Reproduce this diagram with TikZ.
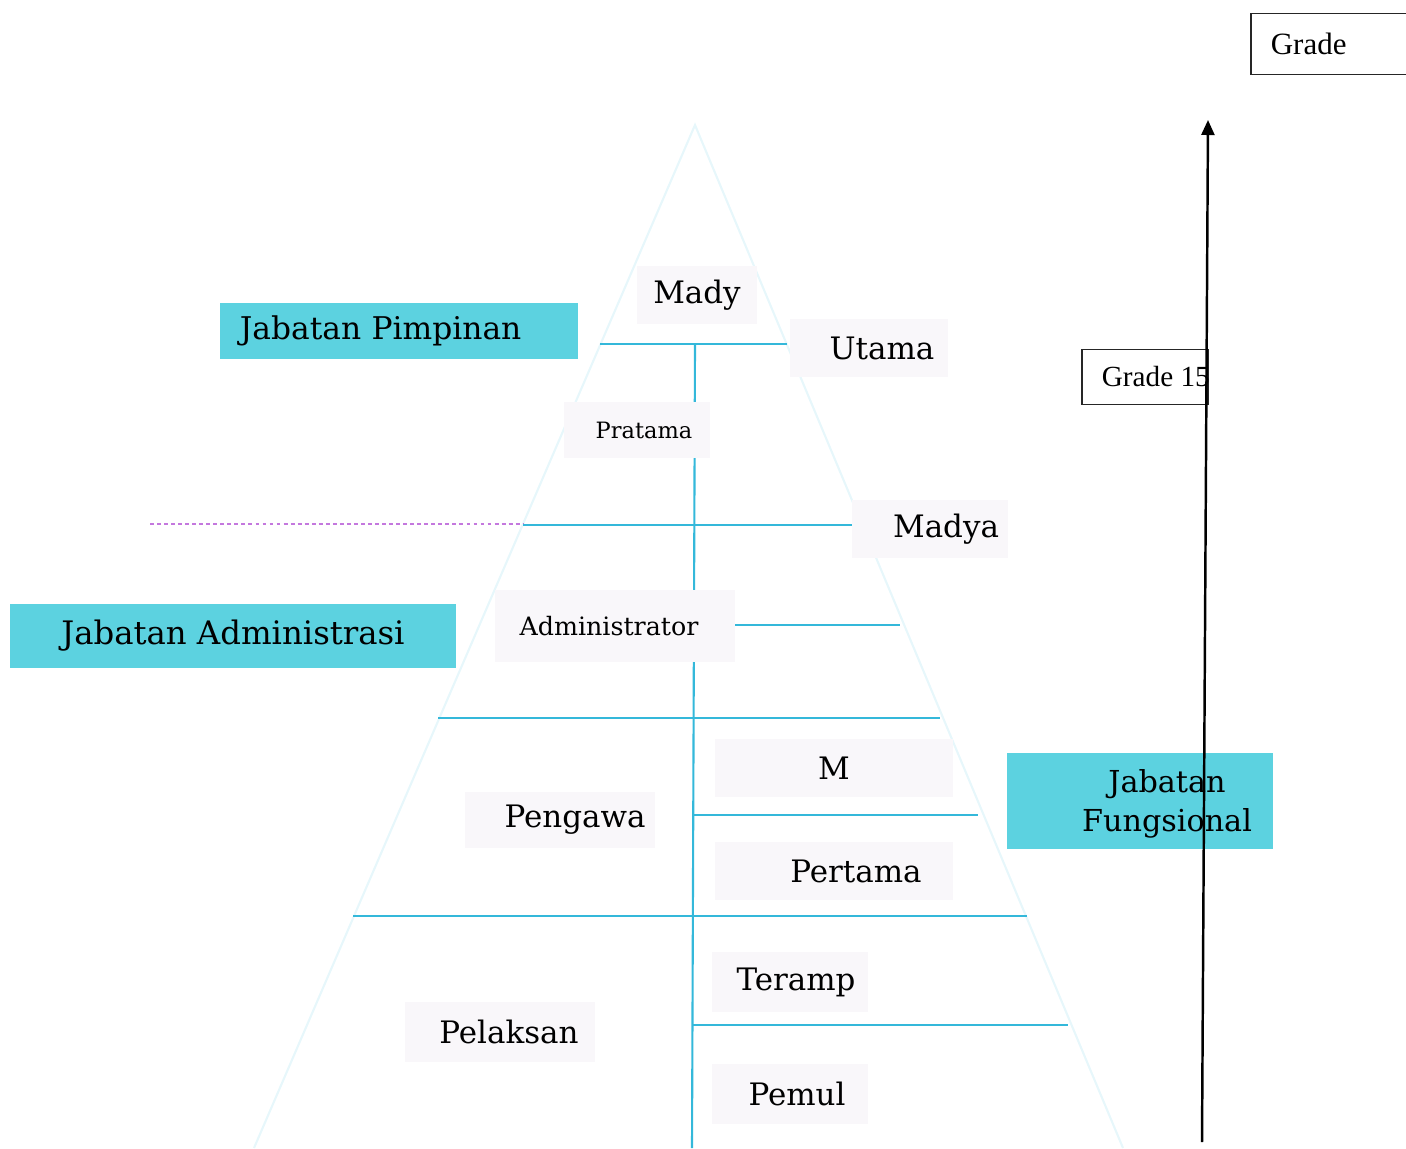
\documentclass[tikz,border=0pt]{standalone}
\usepackage{fontspec}
\setmainfont{DejaVu Serif}
\newfontfamily\timesfont{Liberation Serif}
\usetikzlibrary{arrows.meta, positioning}
\definecolor{boxcyan}{RGB}{92,210,224}
\definecolor{linecyan}{RGB}{52,184,218}
\definecolor{paleface}{RGB}{249,247,250}
\definecolor{dashpink}{RGB}{196,120,222}

\begin{document}
\begin{tikzpicture}[
  x=0.01cm, y=-0.01cm,
  >={Triangle[length=0.15cm, width=0.13cm]},
  jabatan/.style={fill=boxcyan, inner sep=0pt, align=center, font=\fontsize{8.9}{10.9}\selectfont},
  level/.style={fill=paleface, inner sep=0pt, font=\fontsize{8.8}{10}\selectfont},
  sublevel/.style={level, font=\fontsize{6.4}{8}\selectfont},
  gradebox/.style={draw=black!85, line width=0.5pt, inner ysep=0pt, inner xsep=0.2cm,
    anchor=west, font=\timesfont\fontsize{8.8}{10}\selectfont},
  divider/.style={linecyan, line width=0.6pt},
  axis/.style={->, line width=0.7pt, black},
]
\useasboundingbox (0,0) rectangle (1406,1148);

% pyramid outline
\draw[linecyan!12, line width=0.6pt] (254,1148) -- (695,125) -- (1123,1148);

% level dividers
\draw[dashpink, line width=0.6pt, dash pattern=on 1.1pt off 0.9pt] (150,524) -- (523,524);
\draw[divider] (600,344) -- (787,344);
\draw[divider] (523,525) -- (852,525);
\draw[divider] (735,625) -- (900,625);
\draw[divider] (438,718) -- (940,718);
\draw[divider] (693,815) -- (978,815);
\draw[divider] (353,916) -- (1027,916);
\draw[divider] (693,1025) -- (1068,1025);
\draw[divider] (695,344) -- (692,1148);

% level labels (hspace shifts the text inside its pale box)
\node[level, minimum width=1.2cm, minimum height=0.58cm] (mady) at (697,295) {Mady};
\node[level, minimum width=1.58cm, minimum height=0.57cm] (utama) at (869,348) {\hspace*{0.26cm}Utama};
\node[sublevel, minimum width=1.45cm, minimum height=0.55cm] (pratama) at (637,430) {\hspace*{0.14cm}Pratama};
\node[level, minimum width=1.56cm, minimum height=0.58cm] (madya) at (930,529) {\hspace*{0.32cm}Madya};
\node[sublevel, font=\fontsize{7.2}{8}\selectfont, minimum width=2.4cm, minimum height=0.72cm]
  (admin) at (615,626) {Administrator\hspace*{0.12cm}};
\node[level, minimum width=2.37cm, minimum height=0.58cm] (muda) at (834,768) {M};
\node[level, minimum width=1.9cm, minimum height=0.55cm] (pengawas) at (560,820) {\hspace*{0.3cm}Pengawa};
\node[level, minimum width=2.37cm, minimum height=0.57cm] (pertama) at (834,871) {\hspace*{0.44cm}Pertama};
\node[level, minimum width=1.55cm, minimum height=0.6cm] (terampil) at (790,982) {\hspace*{0.12cm}Teramp};
\node[level, minimum width=1.9cm, minimum height=0.6cm] (pelaksana) at (500,1032) {\hspace*{0.18cm}Pelaksan};
\node[level, minimum width=1.55cm, minimum height=0.6cm] (pemula) at (790,1094) {\hspace*{0.14cm}Pemul};

% jabatan boxes
\node[jabatan, minimum width=3.58cm, minimum height=0.56cm, text width=3.18cm, inner xsep=0.2cm, align=left]
  (pimpinan) at (399,331) {Jabatan Pimpinan};
\node[jabatan, font=\fontsize{9.2}{11}\selectfont, minimum width=4.46cm, minimum height=0.63cm]
  (administrasi) at (233,636) {Jabatan Administrasi};
\node[jabatan, minimum width=2.65cm, minimum height=0.95cm] (fungsional) at (1140,801) {};
\node[font=\fontsize{8.6}{11}\selectfont, align=center] (fungtext) at (1167,804) {Jabatan\\Fungsional};

% grade axis
\node[gradebox, minimum height=0.61cm] (grade) at (1250,44) {\makebox[1.7cm][l]{Grade}};
\node[gradebox, minimum height=0.55cm, font=\timesfont\fontsize{8.3}{10}\selectfont]
  (grade15) at (1081,377) {\makebox[0.86cm][l]{Grade 15}};
\coordinate (axisfoot) at (1202,1142);
\coordinate (axistop) at (1208,120);
\draw[axis] (axisfoot) -- (axistop);

\end{tikzpicture}
\end{document}
